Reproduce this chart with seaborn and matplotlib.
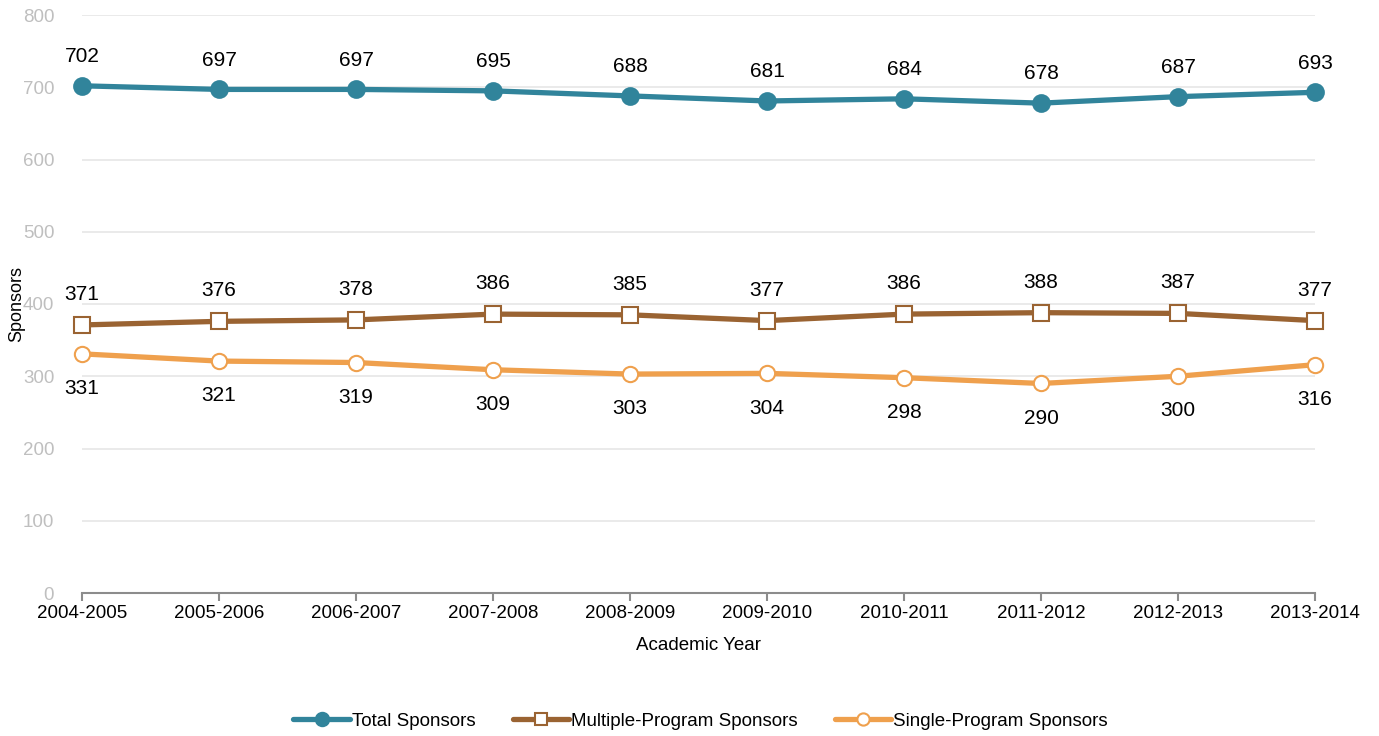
import matplotlib
matplotlib.use("Agg")
import matplotlib.pyplot as plt
import seaborn as sns
import pandas as pd
import numpy as np

years = ["2004-2005", "2005-2006", "2006-2007", "2007-2008", "2008-2009",
         "2009-2010", "2010-2011", "2011-2012", "2012-2013", "2013-2014"]
total = [702, 697, 697, 695, 688, 681, 684, 678, 687, 693]
multiple = [371, 376, 378, 386, 385, 377, 386, 388, 387, 377]
single = [331, 321, 319, 309, 303, 304, 298, 290, 300, 316]
y_ticks = [0, 100, 200, 300, 400, 500, 600, 700, 800]

sns.set_theme(style="white")
plt.rcParams['font.family'] = ['Liberation Sans', 'DejaVu Sans']
plt.rcParams['text.color'] = 'black'

fig = plt.figure(figsize=(13.79, 7.36), dpi=100)
ax = fig.add_axes([82/1379, 1-593/736, (1315-82)/1379, (593-15)/736])

x = np.arange(len(years))
series = [
    ("Total Sponsors", total, "#31849B", "o", "#31849B", 12, 21),
    ("Multiple-Program Sponsors", multiple, "#9A6332", "s", "white", 11, 22),
    ("Single-Program Sponsors", single, "#EFA04D", "o", "white", 11, -25),
]
for name, vals, color, marker, mfc, ms, off in series:
    df = pd.DataFrame({"x": x, "y": vals})
    sns.lineplot(data=df, x="x", y="y", ax=ax, color=color, linewidth=3.8,
                 marker=marker, markersize=ms, markerfacecolor=mfc,
                 markeredgecolor=color, markeredgewidth=1.5, label=name,
                 legend=False, zorder=3, clip_on=False)
    for xi, v in zip(x, vals):
        ax.annotate(str(v), (xi, v), xytext=(0, off), textcoords="offset points",
                    ha="center", va="center", fontsize=15, color="black")

ax.set_xlim(0, len(years) - 1)
ax.set_ylim(0, 800)
ax.set_yticks(y_ticks)
ax.set_yticklabels([str(t) for t in y_ticks], color="#BFBFBF", fontsize=13.5)
ax.set_xticks(x)
ax.set_xticklabels(years, fontsize=13.5, color="black")
ax.yaxis.grid(True, color="#E6E6E6", linewidth=1.2)
ax.set_axisbelow(True)
for s in ["left", "right", "top"]:
    ax.spines[s].set_visible(False)
ax.spines["bottom"].set_color("#8C8C8C")
ax.spines["bottom"].set_linewidth(1.5)
ax.tick_params(axis="x", bottom=True, length=6, width=1.5, color="#8C8C8C", pad=3)
ax.tick_params(axis="y", left=False, pad=14)
ax.set_xlabel("Academic Year", fontsize=13.5, color="black")
ax.xaxis.set_label_coords(0.5, -(645 - 593) / 578, transform=ax.transAxes)
ax.xaxis.label.set_va("center")
ax.set_ylabel("Sponsors", fontsize=13, color="black")
ax.yaxis.set_label_coords(-(82 - 17) / 1233, 0.5, transform=ax.transAxes)
ax.yaxis.label.set_va("center")

h, l = ax.get_legend_handles_labels()
leg = fig.legend(h, l, loc="center", bbox_to_anchor=(0.508, 1 - 721/736), ncol=3,
                 frameon=False, fontsize=13.5, handlelength=3.0, handletextpad=0.1,
                 columnspacing=2.0, markerscale=0.8)
for t in leg.get_texts():
    t.set_color("black")

fig.savefig("out.png", dpi=100)
